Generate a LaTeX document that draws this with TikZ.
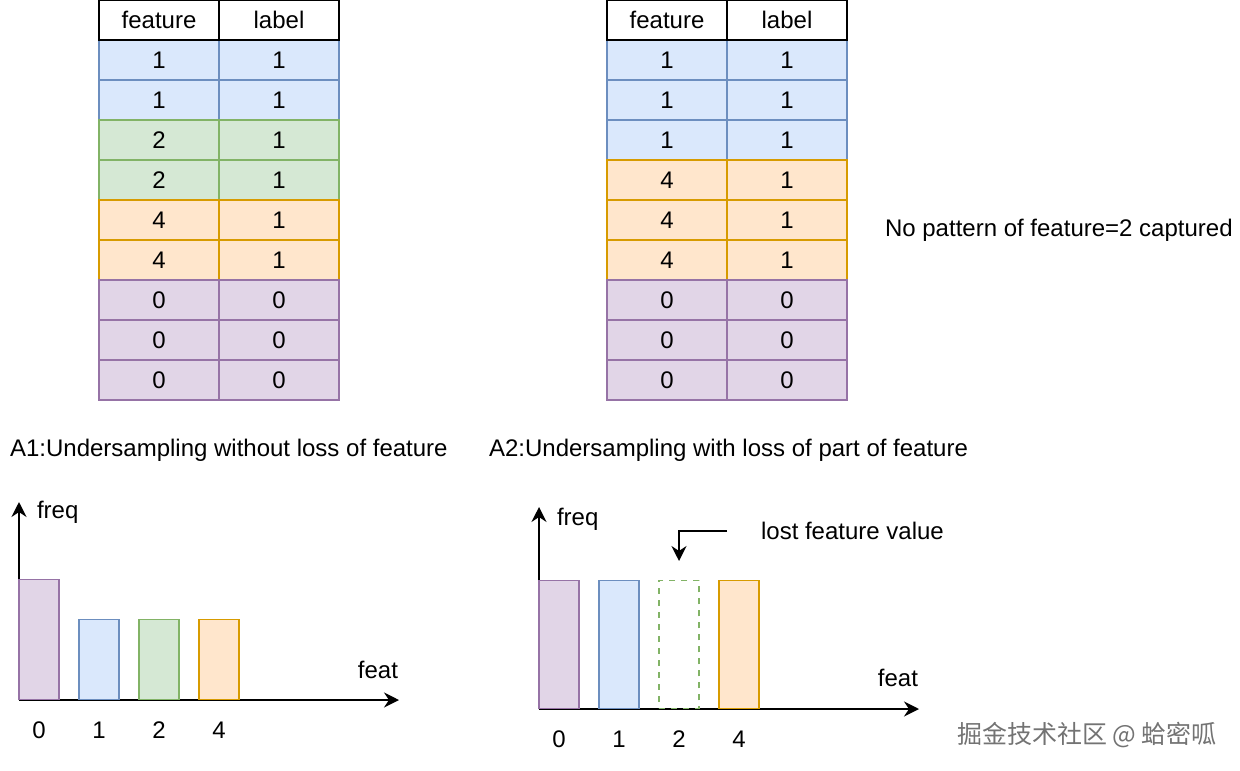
\documentclass[tikz,border=0pt]{standalone}
\usepackage{fontspec}
\setmainfont{Liberation Sans}
\newfontfamily\cjkfont{Noto Sans CJK SC}
\usetikzlibrary{arrows.meta}
\definecolor{bluefill}{HTML}{DAE8FC}
\definecolor{bluedraw}{HTML}{6C8EBF}
\definecolor{greenfill}{HTML}{D5E8D4}
\definecolor{greendraw}{HTML}{82B366}
\definecolor{orangefill}{HTML}{FFE6CC}
\definecolor{orangedraw}{HTML}{D79B00}
\definecolor{purplefill}{HTML}{E1D5E7}
\definecolor{purpledraw}{HTML}{9673A6}
\tikzset{
  cell/.style={draw,minimum width=60pt,minimum height=20pt,inner sep=0pt,line width=0.75pt},
  bar/.style={draw,minimum width=20pt,inner sep=0pt,anchor=south,line width=0.75pt},
  headc/.style={draw=black,fill=white},
  bluec/.style={draw=bluedraw,fill=bluefill},
  greenc/.style={draw=greendraw,fill=greenfill},
  orangec/.style={draw=orangedraw,fill=orangefill},
  purplec/.style={draw=purpledraw,fill=purplefill},
  axis/.style={draw=black,line width=1pt,-{Stealth[length=7.5pt,width=7.5pt,inset=2.5pt]}}
}
\begin{document}
\begin{tikzpicture}[x=0.5pt,y=-0.5pt,font=\fontsize{12}{14}\selectfont]
      \useasboundingbox (0,0) rectangle (1240,770);
      % left table
      \begin{scope}[every node/.style={cell}]
        \node[bluec] (lf1) at (159,60) {1};    \node[bluec] (ll1) at (279,60) {1};
        \node[bluec] (lf2) at (159,100) {1};   \node[bluec] (ll2) at (279,100) {1};
        \node[greenc] (lf3) at (159,140) {2};  \node[greenc] (ll3) at (279,140) {1};
        \node[greenc] (lf4) at (159,180) {2};  \node[greenc] (ll4) at (279,180) {1};
        \node[orangec] (lf5) at (159,220) {4}; \node[orangec] (ll5) at (279,220) {1};
        \node[orangec] (lf6) at (159,260) {4}; \node[orangec] (ll6) at (279,260) {1};
        \node[purplec] (lf7) at (159,300) {0}; \node[purplec] (ll7) at (279,300) {0};
        \node[purplec] (lf8) at (159,340) {0}; \node[purplec] (ll8) at (279,340) {0};
        \node[purplec] (lf9) at (159,380) {0}; \node[purplec] (ll9) at (279,380) {0};
        \node[headc] (lf0) at (159,20) {feature}; \node[headc] (ll0) at (279,20) {label};
      \end{scope}
      % right table
      \begin{scope}[every node/.style={cell}]
        \node[bluec] (rf1) at (667,60) {1};    \node[bluec] (rl1) at (787,60) {1};
        \node[bluec] (rf2) at (667,100) {1};   \node[bluec] (rl2) at (787,100) {1};
        \node[bluec] (rf3) at (667,140) {1};   \node[bluec] (rl3) at (787,140) {1};
        \node[orangec] (rf4) at (667,180) {4}; \node[orangec] (rl4) at (787,180) {1};
        \node[orangec] (rf5) at (667,220) {4}; \node[orangec] (rl5) at (787,220) {1};
        \node[orangec] (rf6) at (667,260) {4}; \node[orangec] (rl6) at (787,260) {1};
        \node[purplec] (rf7) at (667,300) {0}; \node[purplec] (rl7) at (787,300) {0};
        \node[purplec] (rf8) at (667,340) {0}; \node[purplec] (rl8) at (787,340) {0};
        \node[purplec] (rf9) at (667,380) {0}; \node[purplec] (rl9) at (787,380) {0};
        \node[headc] (rf0) at (667,20) {feature}; \node[headc] (rl0) at (787,20) {label};
      \end{scope}
      \node[anchor=west] (note) at (878,230) {No pattern of feature=2 captured};
      \node[anchor=west] (capa) at (3,450) {A1:Undersampling without loss of feature};
      \node[anchor=west] (capb) at (482,450) {A2:Undersampling with loss of part of feature};
      % left chart
      \coordinate (o1) at (19,700);
      \coordinate (y1) at (19,502);
      \coordinate (x1) at (399,700);
      \path (o1) edge[axis] (y1);
      \path (o1) edge[axis] (x1);
      \begin{scope}[every node/.style={bar}]
        \node[purplec,minimum height=60pt] (a0) at (39,700) {};
        \node[bluec,minimum height=40pt] (a1) at (99,700) {};
        \node[greenc,minimum height=40pt] (a2) at (159,700) {};
        \node[orangec,minimum height=40pt] (a4) at (219,700) {};
      \end{scope}
      \node[anchor=west] (fq1) at (30,512) {freq};
      \node[anchor=east] (ft1) at (405,670) {feat};
      \node (ta0) at (39,730) {0};
      \node (ta1) at (99,730) {1};
      \node (ta2) at (159,730) {2};
      \node (ta4) at (219,730) {4};
      % right chart
      \coordinate (o2) at (539,709);
      \coordinate (y2) at (539,507);
      \coordinate (x2) at (919,709);
      \path (o2) edge[axis] (y2);
      \path (o2) edge[axis] (x2);
      \begin{scope}[every node/.style={bar,minimum height=64pt}]
        \node[purplec] (b0) at (559,709) {};
        \node[bluec] (b1) at (619,709) {};
        \node[draw=greendraw,fill=white,dash pattern=on 3pt off 3pt] (b2) at (679,709) {};
        \node[orangec] (b4) at (739,709) {};
      \end{scope}
      \node[anchor=west] (fq2) at (550,519) {freq};
      \node[anchor=east] (ft2) at (925,678) {feat};
      \node (tb0) at (559,739) {0};
      \node (tb1) at (619,739) {1};
      \node (tb2) at (679,739) {2};
      \node (tb4) at (739,739) {4};
      \node[anchor=west] (lost) at (754,531) {lost feature value};
      \coordinate (ls) at (727,531);
      \coordinate (lt) at (679,561);
      \draw[axis] (ls) -| (lt);
      \node[anchor=east,text=black!55,font=\cjkfont\fontsize{12.5}{14}\selectfont] (mark) at (1224,735) {掘金技术社区 @ 蛤密呱};
    \end{tikzpicture}
\end{document}
